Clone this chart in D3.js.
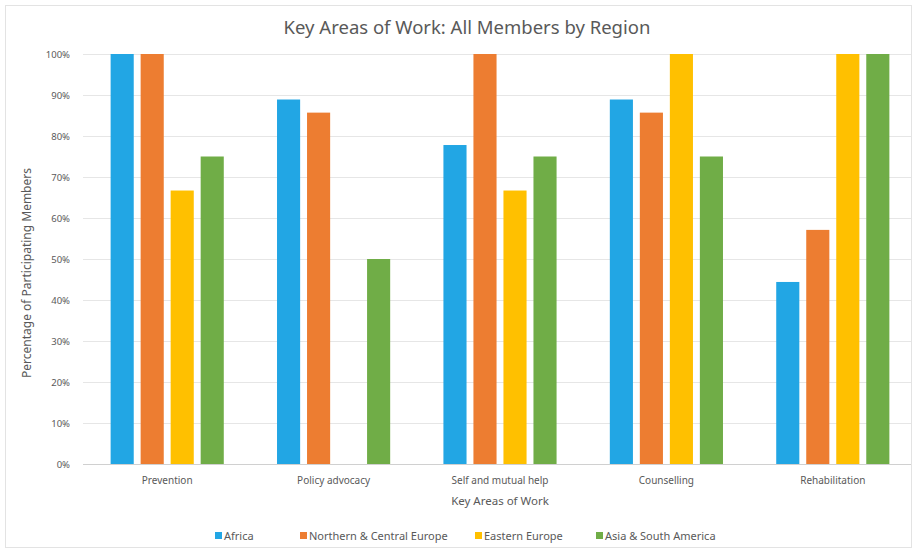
<!DOCTYPE html>
<html>
<head>
<meta charset="utf-8">
<script src="https://cdn.jsdelivr.net/npm/d3@7"></script>
<style>
  body { margin: 0; background: #fff; }
  text { font-family: "Noto Sans", "Open Sans", sans-serif; }
</style>
</head>
<body>
<div id="main"></div>
<script>
const categories = ["Prevention", "Policy advocacy", "Self and mutual help", "Counselling", "Rehabilitation"];
const regions = ["Africa", "Northern & Central Europe", "Eastern Europe", "Asia & South America"];
const colors = ["#22a6e4", "#ed7d31", "#ffc000", "#70ad47"];

// percentages per region, in category order (null = no bar)
const africa = [100, 88.9, 77.8, 88.9, 44.4];
const northCentral = [100, 85.7, 100, 85.7, 57.1];
const easternEurope = [66.7, null, 66.7, 100, 100];
const asiaSouthAmerica = [75, 50, 75, 75, 100];

const yTicks = [0, 10, 20, 30, 40, 50, 60, 70, 80, 90, 100];

const series = [africa, northCentral, easternEurope, asiaSouthAmerica];

const width = 917;
const height = 553;
const margin = { top: 54, right: 6, bottom: 89, left: 83 };

const svg = d3.select("#main").append("svg")
    .attr("width", width)
    .attr("height", height);

// chart frame
svg.append("rect")
    .attr("x", 5.5).attr("y", 5.5)
    .attr("width", width - 11).attr("height", height - 11)
    .attr("fill", "#fff")
    .attr("stroke", "#e3e3e3");

const x0 = d3.scaleBand()
    .domain(categories)
    .range([margin.left + 1, width - 1])
    .paddingInner(0.32)
    .paddingOuter(0.16);

const x1 = d3.scaleBand()
    .domain(d3.range(regions.length))
    .range([0, x0.bandwidth()])
    .paddingInner(0.23);

const y = d3.scaleLinear()
    .domain([0, 100])
    .range([height - margin.bottom, margin.top]);

// grid + y labels
const yAxis = g => g
    .attr("transform", `translate(${margin.left},0)`)
    .call(d3.axisLeft(y)
        .tickValues(yTicks)
        .tickSize(-(width - margin.left - margin.right))
        .tickPadding(13)
        .tickFormat(d => d + "%"))
    .call(g => g.select(".domain").remove())
    .call(g => g.selectAll(".tick line")
        .attr("stroke", d => d === 0 ? "#d0d0d0" : "#e6e6e6"))
    .call(g => g.selectAll(".tick text")
        .attr("fill", "#595959")
        .attr("font-size", 9.5));

svg.append("g").call(yAxis);

// bars
const rows = categories.map((c, i) => ({ cat: c, vals: series.map(s => s[i]) }));

svg.append("g")
    .selectAll("g")
    .data(rows)
    .join("g")
    .attr("transform", d => `translate(${x0(d.cat)},0)`)
    .selectAll("rect")
    .data(d => d.vals.map((v, k) => ({ k, v })).filter(e => e.v !== null))
    .join("rect")
    .attr("x", d => x1(d.k))
    .attr("y", d => y(d.v))
    .attr("width", x1.bandwidth())
    .attr("height", d => y(0) - y(d.v))
    .attr("fill", d => colors[d.k]);

// category labels
const xAxis = g => g
    .attr("transform", `translate(0,${height - margin.bottom})`)
    .call(d3.axisBottom(x0).tickSize(0).tickPadding(13))
    .call(g => g.select(".domain").remove())
    .call(g => g.selectAll(".tick text")
        .attr("fill", "#595959")
        .attr("font-size", 10));

svg.append("g").call(xAxis);

// title
svg.append("text")
    .attr("x", 467)
    .attr("y", 34)
    .attr("text-anchor", "middle")
    .attr("font-size", 18.5)
    .attr("fill", "#595959")
    .text("Key Areas of Work: All Members by Region");

// axis titles
svg.append("text")
    .attr("x", 500)
    .attr("y", 505)
    .attr("text-anchor", "middle")
    .attr("font-size", 11.5)
    .attr("fill", "#595959")
    .text("Key Areas of Work");

svg.append("text")
    .attr("transform", `translate(31,273) rotate(-90)`)
    .attr("text-anchor", "middle")
    .attr("font-size", 12)
    .attr("fill", "#595959")
    .text("Percentage of Participating Members");

// legend
const legendX = [215, 300, 475, 596];
const legend = svg.append("g")
    .selectAll("g")
    .data(regions)
    .join("g")
    .attr("transform", (d, i) => `translate(${legendX[i]},540)`);

legend.append("rect")
    .attr("x", 0).attr("y", -8)
    .attr("width", 7).attr("height", 7)
    .attr("fill", (d, i) => colors[i]);

legend.append("text")
    .attr("x", 9)
    .attr("y", 0)
    .attr("font-size", 11)
    .attr("fill", "#595959")
    .text(d => d);
</script>
</body>
</html>
